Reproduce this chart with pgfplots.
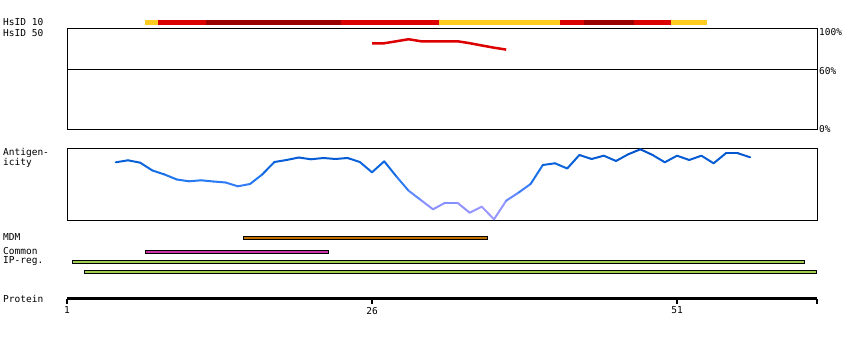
\documentclass[border=0pt]{standalone}
\usepackage{pgfplots}
\pgfplotsset{compat=1.18}
\usepackage{fontspec}
\setmainfont{DejaVu Sans Mono}
\definecolor{hy}{RGB}{255,204,34}
\definecolor{hr}{RGB}{221,0,0}
\definecolor{hdr}{RGB}{153,0,0}
\definecolor{mdm}{RGB}{192,112,0}
\definecolor{com}{RGB}{204,51,170}
\definecolor{ipr}{RGB}{160,204,80}
\pgfplotsset{colormap={ag}{rgb255(0pt)=(170,160,255); rgb255(15pt)=(140,145,255); rgb255(30pt)=(70,130,255); rgb255(40pt)=(35,120,240); rgb255(55pt)=(10,100,220); rgb255(72pt)=(0,80,200)}}
\begin{document}
\begin{tikzpicture}[x=1pt,y=1pt,font=\fontsize{9.5}{10}\selectfont]
\useasboundingbox (0,0) rectangle (850,340);
% feature bars
\begin{axis}[at={(67pt,0pt)}, anchor=south west, scale only axis, width=750pt, height=340pt,
  xmin=1, xmax=62.475, ymin=0, ymax=340, hide axis, clip=false]
\addplot[fill=hy, draw=none] coordinates {(7.39,315) (8.46,315) (8.46,320) (7.39,320)} -- cycle;
\addplot[fill=hr, draw=none] coordinates {(8.46,315) (12.39,315) (12.39,320) (8.46,320)} -- cycle;
\addplot[fill=hdr, draw=none] coordinates {(12.39,315) (23.46,315) (23.46,320) (12.39,320)} -- cycle;
\addplot[fill=hr, draw=none] coordinates {(23.46,315) (31.49,315) (31.49,320) (23.46,320)} -- cycle;
\addplot[fill=hy, draw=none] coordinates {(31.49,315) (41.41,315) (41.41,320) (31.49,320)} -- cycle;
\addplot[fill=hr, draw=none] coordinates {(41.41,315) (43.38,315) (43.38,320) (41.41,320)} -- cycle;
\addplot[fill=hdr, draw=none] coordinates {(43.38,315) (47.48,315) (47.48,320) (43.38,320)} -- cycle;
\addplot[fill=hr, draw=none] coordinates {(47.48,315) (50.51,315) (50.51,320) (47.48,320)} -- cycle;
\addplot[fill=hy, draw=none] coordinates {(50.51,315) (53.46,315) (53.46,320) (50.51,320)} -- cycle;
% MDM
\addplot[fill=mdm, draw=black, line width=1pt] coordinates {(15.47,100.2) (35.45,100.2) (35.45,103.8) (15.47,103.8)} -- cycle;
% Common
\addplot[fill=com, draw=black, line width=1pt] coordinates {(7.46,86.0) (22.41,86.0) (22.41,89.6) (7.46,89.6)} -- cycle;
% IP-reg
\addplot[fill=ipr, draw=black, line width=1pt] coordinates {(1.47,76.0) (61.43,76.0) (61.43,79.6) (1.47,79.6)} -- cycle;
\addplot[fill=ipr, draw=black, line width=1pt] coordinates {(2.46,66.0) (62.41,66.0) (62.41,69.6) (2.46,69.6)} -- cycle;
\end{axis}
% HsID 50 panel
\begin{axis}[at={(67pt,210.5pt)}, anchor=south west, scale only axis, width=750pt, height=100.5pt,
  xmin=1, xmax=62.475, ymin=0, ymax=100, xtick=\empty, ytick=\empty, axis line style={line width=1pt}]
\addplot[black, line width=1pt] coordinates {(1,60) (62.475,60)};
\addplot[color=hr, line width=2.5pt] coordinates {
(26,85.8) (27,85.8) (28,87.8) (29,89.8) (30,87.8) (31,87.8) (32,87.8) (33,87.8)
(34,85.9) (35,83.6) (36,81.4) (37,79.5)};
\end{axis}
% Antigenicity panel
\begin{axis}[at={(67pt,120pt)}, anchor=south west, scale only axis, width=750pt, height=71.7pt,
  xmin=1, xmax=62.475, ymin=0, ymax=71.7, xtick=\empty, ytick=\empty, axis line style={line width=1pt},
  colormap name=ag, point meta min=0, point meta max=72]
\addplot[mesh, point meta=y, line width=2pt, line cap=round, line join=round] coordinates {
(5,57.7) (6,59.7) (7,57.3) (8,49.5) (9,45.5) (10,40.5) (11,38.7) (12,39.7) (13,38.5) (14,37.5)
(15,33.7) (16,36) (17,45.5) (18,58) (19,60) (20,62.5) (21,60.7) (22,62) (23,61) (24,62)
(25,58) (26,47.7) (27,58.7) (28,43.5) (29,29.3) (30,20) (31,10.7) (32,17.3) (33,17.3) (34,7.3)
(35,13.3) (36,0.7) (37,19.3) (38,27.3) (39,36) (40,55) (41,56.7) (42,51.5) (43,65) (44,61)
(45,64.3) (46,59) (47,65.7) (48,70.7) (49,65) (50,57.7) (51,64.3) (52,60) (53,64.3) (54,56.7)
(55,66.7) (56,66.7) (57,62.7)};
\end{axis}
% Protein axis
\begin{axis}[at={(67pt,41.5pt)}, anchor=south west, scale only axis, width=750pt, height=10pt,
  xmin=1, xmax=62.475, ymin=0, ymax=1, axis x line=bottom, axis y line=none,
  x axis line style={line width=3pt, -}, xtick={1,26,51,62.475}, xticklabels={1,26,51,{}},
  tick align=outside, major tick length=5pt, tick style={black, line width=1.2pt}]
\addplot[draw=none] coordinates {(1,0)};
\end{axis}
% labels
\node[anchor=west, inner sep=0] at (3,318) {HsID 10};
\node[anchor=west, inner sep=0] at (3,307) {HsID 50};
\node[anchor=west, inner sep=0] at (3,187.5) {Antigen-};
\node[anchor=west, inner sep=0] at (3,177) {icity};
\node[anchor=west, inner sep=0] at (3,102.5) {MDM};
\node[anchor=west, inner sep=0] at (3,88.5) {Common};
\node[anchor=west, inner sep=0] at (3,78.5) {IP-reg.};
\node[anchor=west, inner sep=0] at (3,41.5) {Protein};
\node[anchor=west, inner sep=0] at (819,307.5) {100\%};
\node[anchor=west, inner sep=0] at (819,269) {60\%};
\node[anchor=west, inner sep=0] at (819,211) {0\%};
\end{tikzpicture}
\end{document}
